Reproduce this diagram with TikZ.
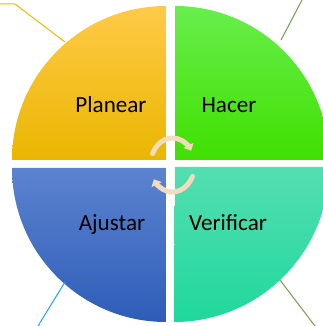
\documentclass[tikz,border=0pt]{standalone}
\usepackage{fontspec}
\setmainfont{Carlito}
\usetikzlibrary{arrows.meta}
\definecolor{orT}{HTML}{FFCA48}
\definecolor{orB}{HTML}{EAB600}
\definecolor{grT}{HTML}{68EE4C}
\definecolor{grB}{HTML}{3FE000}
\definecolor{blT}{HTML}{5C83D0}
\definecolor{blB}{HTML}{2E5DB8}
\definecolor{tlT}{HTML}{54DEB2}
\definecolor{tlB}{HTML}{1FD89C}
\definecolor{cream}{HTML}{F3DBBE}
\definecolor{goldline}{HTML}{F2B600}
\definecolor{oliveline}{HTML}{72A048}
\definecolor{cyanline}{HTML}{1AA8E8}
\tikzset{
  lbl/.style={font=\fontsize{23.2}{27}\selectfont, text=black, anchor=base, inner sep=0pt},
  leader/.style={line width=1bp},
  cyc/.style={draw=cream, line width=5bp, line cap=round, -{Triangle[length=6bp,width=11bp]}}
}
\begin{document}
\begin{tikzpicture}[x=1bp,y=1bp]
\useasboundingbox (0,0) rectangle (323,326);
\begin{scope}
\clip (0,0) rectangle (323,326);
% quadrants
\shade[top color=orT, bottom color=orB] (166,166) -- ++(-154,0) arc[start angle=180,end angle=90,radius=154] -- cycle;
\shade[top color=grT, bottom color=grB] (175,166) -- ++(0,154) arc[start angle=90,end angle=0,radius=154] -- cycle;
\shade[top color=blT, bottom color=blB] (166,158) -- ++(-154,0) arc[start angle=180,end angle=270,radius=154] -- cycle;
\shade[top color=tlT, bottom color=tlB] (175,159) -- ++(154,0) arc[start angle=0,end angle=-90,radius=155] -- cycle;
% leader lines
\coordinate (o1) at (0,322);
\coordinate (o2) at (15,322);
\coordinate (o3) at (65,284);
\draw[leader, goldline] (o1) -- (o2) -- (o3);
\coordinate (g1) at (302,326);
\coordinate (g2) at (281,286);
\draw[leader, oliveline] (g1) -- (g2);
\coordinate (b1) at (65,44);
\coordinate (b2) at (38,0);
\draw[leader, cyanline] (b1) -- (b2);
\coordinate (t1) at (280,46);
\coordinate (t2) at (315,0);
\draw[leader, oliveline] (t1) -- (t2);
% cycle arrows
\coordinate (cc) at (172.5,161);
\draw[cyc] ([shift={(155:22 and 27)}]cc) arc[start angle=155,end angle=32,x radius=22,y radius=27];
\draw[cyc] ([shift={(-25:22 and 27)}]cc) arc[start angle=-25,end angle=-148,x radius=22,y radius=27];
\end{scope}
% labels
\node[lbl] (planear) at (111,214) {Planear};
\node[lbl] (hacer) at (229,214) {Hacer};
\node[lbl] (ajustar) at (112,96) {Ajustar};
\node[lbl] (verificar) at (228,96) {Verificar};
\end{tikzpicture}
\end{document}
